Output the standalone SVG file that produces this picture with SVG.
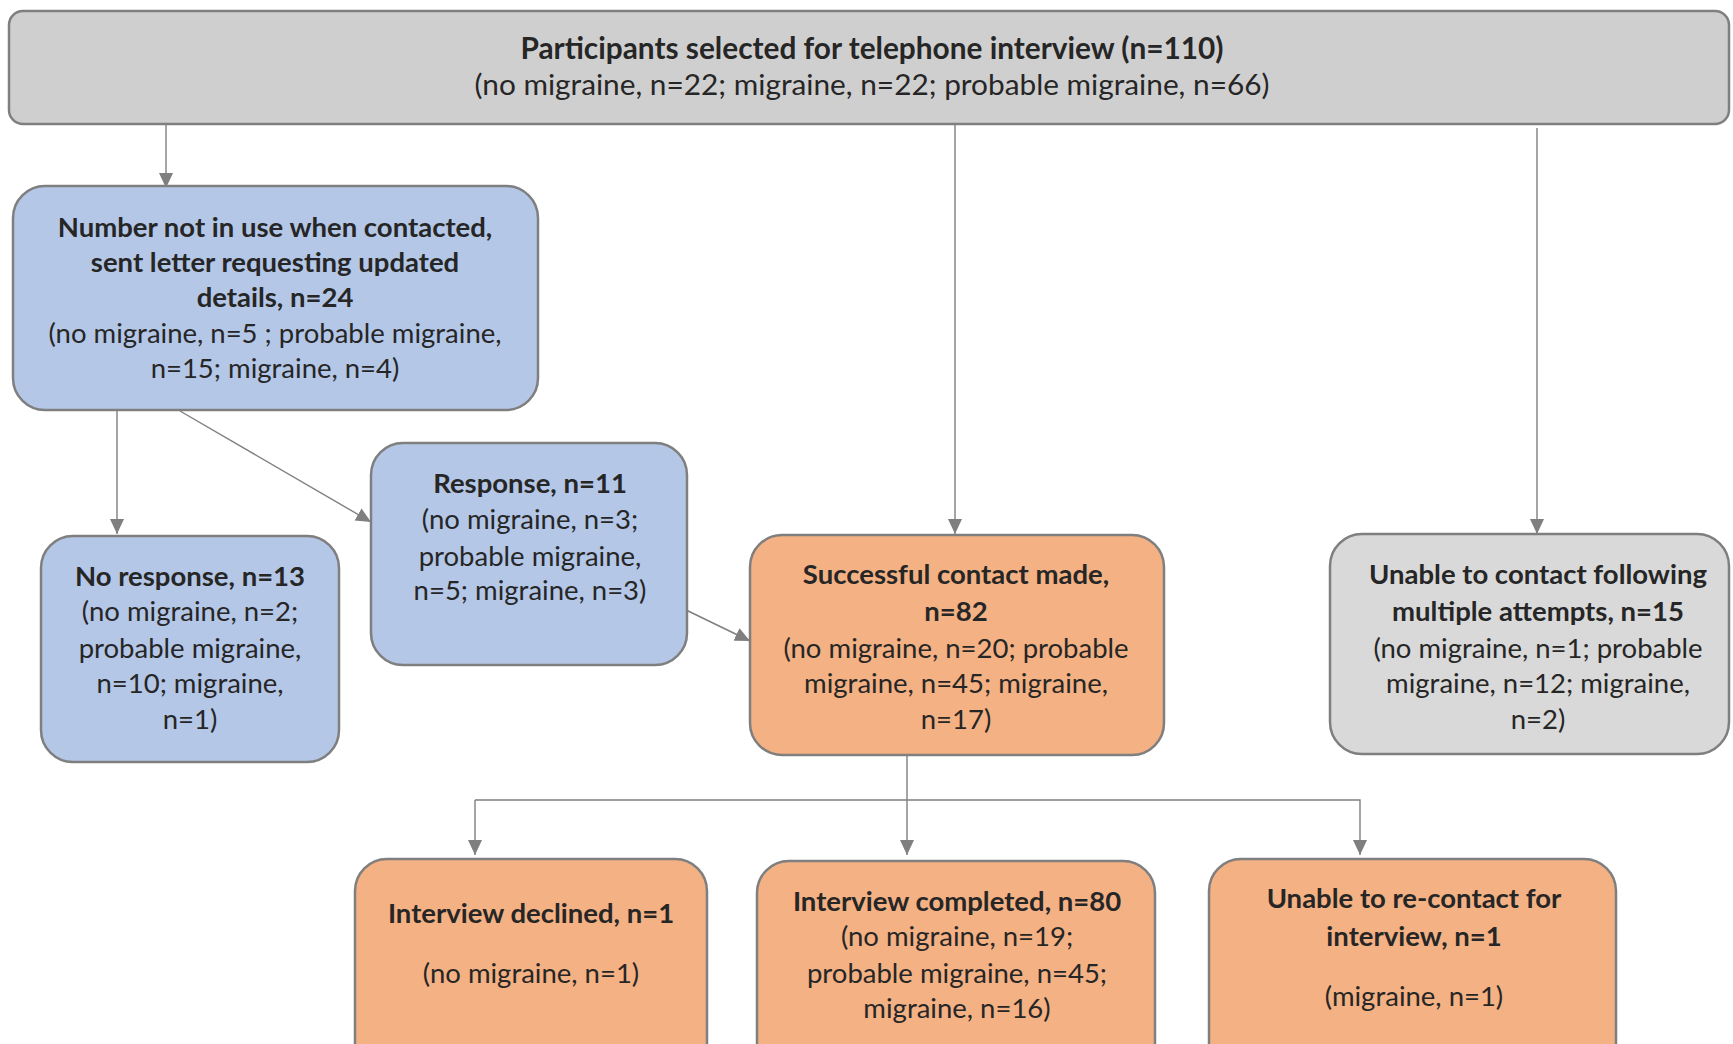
<svg xmlns="http://www.w3.org/2000/svg" width="1733" height="1044" viewBox="0 0 1733 1044">
  <style>
    .box { stroke: #7f7f7f; stroke-width: 2.5; }
    .gray { fill: #d0cfd0; }
    .lgray { fill: #d9d9d9; }
    .blue { fill: #b4c7e7; }
    .orange { fill: #f4b183; }
    text { font-family: Lato, "Open Sans", "Liberation Sans", sans-serif; font-size: 27.5px; fill: #262626; text-anchor: middle; }
    .top { font-size: 29.8px; }
    .b { font-weight: bold; }
    .conn { stroke: #7f7f7f; stroke-width: 1.4; fill: none; }
  </style>
  <defs>
    <marker id="arr" markerUnits="userSpaceOnUse" markerWidth="16" markerHeight="14" refX="15" refY="7" orient="auto">
      <path d="M0,0 L15,7 L0,14 Z" fill="#7f7f7f"/>
    </marker>
  </defs>
  <rect width="1733" height="1044" fill="#ffffff"/>

  <!-- connectors -->
  <g id="connectors">
    <line class="conn" x1="166" y1="125" x2="166" y2="188" marker-end="url(#arr)"/>
    <line class="conn" x1="955" y1="125" x2="955" y2="534" marker-end="url(#arr)"/>
    <line class="conn" x1="1537" y1="128" x2="1537" y2="534" marker-end="url(#arr)"/>
    <line class="conn" x1="117" y1="411" x2="117" y2="534" marker-end="url(#arr)"/>
    <line class="conn" x1="180" y1="411" x2="371" y2="522" marker-end="url(#arr)"/>
    <line class="conn" x1="684" y1="609" x2="750" y2="641" marker-end="url(#arr)"/>
    <line class="conn" x1="907" y1="756" x2="907" y2="855" marker-end="url(#arr)"/>
    <polyline class="conn" points="475,800 1360,800 1360,855" marker-end="url(#arr)"/>
    <line class="conn" x1="475" y1="800" x2="475" y2="855" marker-end="url(#arr)"/>
  </g>

  <!-- top: participants selected -->
  <g id="node-selected">
    <rect class="box gray" x="9" y="11" width="1720" height="113" rx="14"/>
    <text class="b top" x="872" y="59">Participants selected for telephone interview (n=110)</text>
    <text class="top" x="872" y="95">(no migraine, n=22; migraine, n=22; probable migraine, n=66)</text>
  </g>

  <g id="node-not-in-use">
    <rect class="box blue" x="13" y="186" width="525" height="224" rx="32"/>
    <text class="b" x="275" y="237">Number not in use when contacted,</text>
    <text class="b" x="275" y="272">sent letter requesting updated</text>
    <text class="b" x="275" y="307">details, n=24</text>
    <text x="275" y="343">(no migraine, n=5 ; probable migraine,</text>
    <text x="275" y="378">n=15; migraine, n=4)</text>
  </g>

  <g id="node-no-response">
    <rect class="box blue" x="41" y="536" width="298" height="226" rx="32"/>
    <text class="b" x="190" y="586">No response, n=13</text>
    <text x="190" y="621">(no migraine, n=2;</text>
    <text x="190" y="658">probable migraine,</text>
    <text x="190" y="693">n=10; migraine,</text>
    <text x="190" y="729">n=1)</text>
  </g>

  <g id="node-response">
    <rect class="box blue" x="371" y="443" width="316" height="222" rx="32"/>
    <text class="b" x="530" y="493">Response, n=11</text>
    <text x="530" y="529">(no migraine, n=3;</text>
    <text x="530" y="566">probable migraine,</text>
    <text x="530" y="600">n=5; migraine, n=3)</text>
  </g>

  <g id="node-successful">
    <rect class="box orange" x="750" y="535" width="414" height="220" rx="32"/>
    <text class="b" x="956" y="584">Successful contact made,</text>
    <text class="b" x="956" y="621">n=82</text>
    <text x="956" y="658">(no migraine, n=20; probable</text>
    <text x="956" y="693">migraine, n=45; migraine,</text>
    <text x="956" y="729">n=17)</text>
  </g>

  <g id="node-unable-contact">
    <rect class="box lgray" x="1330" y="534" width="399" height="220" rx="32"/>
    <text class="b" x="1538" y="584">Unable to contact following</text>
    <text class="b" x="1538" y="621">multiple attempts, n=15</text>
    <text x="1538" y="658">(no migraine, n=1; probable</text>
    <text x="1538" y="693">migraine, n=12; migraine,</text>
    <text x="1538" y="729">n=2)</text>
  </g>

  <g id="node-declined">
    <rect class="box orange" x="355" y="859" width="352" height="220" rx="32"/>
    <text class="b" x="531" y="923">Interview declined, n=1</text>
    <text x="531" y="983">(no migraine, n=1)</text>
  </g>

  <g id="node-completed">
    <rect class="box orange" x="757" y="861" width="398" height="220" rx="32"/>
    <text class="b" x="957" y="911">Interview completed, n=80</text>
    <text x="957" y="946">(no migraine, n=19;</text>
    <text x="957" y="983">probable migraine, n=45;</text>
    <text x="957" y="1018">migraine, n=16)</text>
  </g>

  <g id="node-unable-recontact">
    <rect class="box orange" x="1209" y="859" width="407" height="220" rx="32"/>
    <text class="b" x="1414" y="908">Unable to re-contact for</text>
    <text class="b" x="1414" y="946">interview, n=1</text>
    <text x="1414" y="1006">(migraine, n=1)</text>
  </g>
</svg>
